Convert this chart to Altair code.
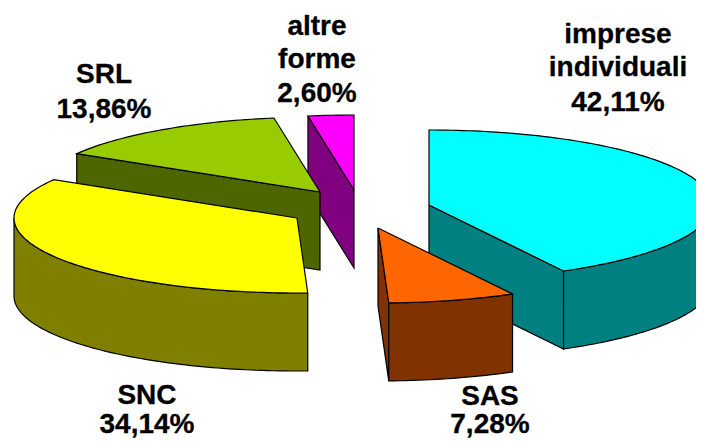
import math
import altair as alt
import pandas as pd

names = ["altre forme", "SRL", "SNC", "imprese individuali", "SAS"]
values = {"imprese individuali": 42.11, "SAS": 7.28, "SNC": 34.14, "SRL": 13.86, "altre forme": 2.60}
clock_order = ["imprese individuali", "SAS", "SNC", "SRL", "altre forme"]
explode_dx = {"imprese individuali": 0, "SAS": -51, "SNC": -132, "SRL": -109, "altre forme": -75}
explode_dy = {"imprese individuali": 0, "SAS": 23, "SNC": 13, "SRL": -13, "altre forme": -15}
top_colors = {"imprese individuali": "#00FFFF", "SAS": "#FF6600", "SNC": "#FFFF00", "SRL": "#99CC00", "altre forme": "#FF00FF"}
side_colors = {"imprese individuali": "#008080", "SAS": "#803300", "SNC": "#808000", "SRL": "#4D6600", "altre forme": "#800080"}

label_text = ["altre", "forme", "2,60%", "SRL", "13,86%", "imprese", "individuali", "42,11%", "SNC", "34,14%", "SAS", "7,28%"]
label_x = [317, 317, 317, 104, 104, 618, 618, 618, 147, 147, 490, 490]
label_y = [27, 60, 94, 75, 110, 35, 68, 103, 396, 425, 397, 425]

CX, CY, RX, RY, DEPTH = 429, 205, 283, 75, 78
total = sum(values.values())
XDOM = [8, 696]
YDOM = [440, 8]

start = {}
acc = 0.0
for n in clock_order:
    start[n] = (acc, acc + values[n] / total * 2 * math.pi)
    acc = start[n][1]


def rim(n, a, drop=0):
    return (CX + explode_dx[n] + RX * math.sin(a), CY + explode_dy[n] - RY * math.cos(a) + drop)


def apex(n, drop=0):
    return (CX + explode_dx[n], CY + explode_dy[n] + drop)


def arc(n, a0, a1, drop=0):
    steps = max(2, int(abs(a1 - a0) / 0.02))
    return [rim(n, a0 + (a1 - a0) * i / steps, drop) for i in range(steps + 1)]


def poly(pts, fill):
    pts = list(pts) + [pts[0]]
    df = pd.DataFrame({"x": [p[0] for p in pts], "y": [p[1] for p in pts], "o": range(len(pts))})
    return alt.Chart(df).mark_line(
        fill=fill, stroke="black", strokeWidth=1.2, clip=True, strokeJoin="miter"
    ).encode(
        x=alt.X("x:Q", scale=alt.Scale(domain=XDOM, nice=False, zero=False), axis=None),
        y=alt.Y("y:Q", scale=alt.Scale(domain=YDOM, nice=False, zero=False), axis=None),
        order="o:Q",
    )


layers = []
for n in names:
    a0, a1 = start[n]
    faces = []
    if n in ("altre forme", "SRL"):
        faces.append(([rim(n, a0), apex(n), apex(n, DEPTH), rim(n, a0, DEPTH)], side_colors[n]))
    if n in ("imprese individuali", "SAS"):
        faces.append(([apex(n), rim(n, a1), rim(n, a1, DEPTH), apex(n, DEPTH)], side_colors[n]))
    lo, hi = max(a0, math.pi / 2), min(a1, 3 * math.pi / 2)
    if hi > lo:
        faces.append((arc(n, lo, hi) + arc(n, hi, lo, DEPTH), side_colors[n]))
    faces.append(([apex(n)] + arc(n, a0, a1), top_colors[n]))
    layers += [poly(p, c) for p, c in faces]

labels = pd.DataFrame({"t": label_text, "x": label_x, "y": label_y})
text = alt.Chart(labels).mark_text(
    font="Liberation Sans", fontWeight="bold", fontSize=28, color="black", stroke="black", strokeWidth=0.3,
    baseline="middle", align="center"
).encode(
    x=alt.X("x:Q", scale=alt.Scale(domain=XDOM, nice=False, zero=False), axis=None),
    y=alt.Y("y:Q", scale=alt.Scale(domain=YDOM, nice=False, zero=False), axis=None),
    text="t:N",
)

chart = alt.layer(*layers, text).properties(
    width=688, height=432, padding=0, autosize=alt.AutoSizeParams(type="none")
).configure_view(stroke=None)

chart.save("out.html", embed_options={"renderer": "svg", "actions": False})
